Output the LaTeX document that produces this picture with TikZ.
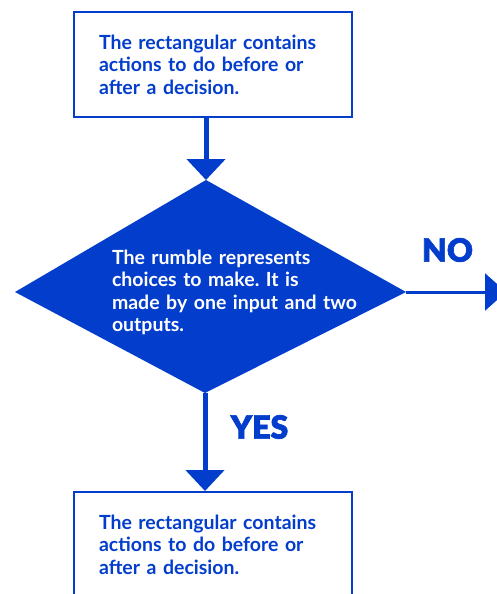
\documentclass[tikz,border=0pt]{standalone}
\usepackage{fontspec}
\setmainfont{Lato}
\newfontfamily\heavyfont{Lato Black}[FakeBold=2]
\usetikzlibrary{shapes.geometric,arrows.meta}
\definecolor{flowblue}{RGB}{3,61,204}
\frenchspacing

\begin{document}
\begin{tikzpicture}[x=1pt, y=-1pt,
 every node/.style={font=\bfseries\fontsize{19.5}{22.5}\selectfont, text=flowblue},
 actbox/.style={draw=flowblue, line width=2pt, fill=white, minimum width=278pt, minimum height=105pt, text width=228pt, align=left, inner sep=0pt},
 flow/.style={draw=flowblue, line width=5pt, -{Triangle[width=38pt,length=21pt]}},
 answer/.style={font=\heavyfont\fontsize{32}{32}\selectfont}]

 \useasboundingbox (0,0) rectangle (496,594);

 \node[actbox] (before) at (213,64.5) {The rectangular contains\\ actions to do before or\\ after a decision.};
 \coordinate (dtop) at (206,180);
 \coordinate (dright) at (406,292);
 \coordinate (dbottom) at (205,393);
 \coordinate (dleft) at (15,292);
 \fill[flowblue] (dtop) -- (dright) -- (dbottom) -- (dleft) -- cycle;
 \node[text=white, text width=256pt, align=left, inner sep=0pt] (question) at (240,292.5) {The rumble represents\\ choices to make. It is\\ made by one input and two\\ outputs.};
 \node[actbox] (after) at (213,544.5) {The rectangular contains\\ actions to do before or\\ after a decision.};
 \coordinate (noend) at (506,292);

 \draw[flow] (before.south -| dtop) -- (dtop);
 \draw[flow] (dbottom) -- (after.north -| dbottom);
 \draw[flow, line width=3pt, -{Triangle[width=37pt,length=21pt]}] (dright) -- (noend);

 \node[answer] (no) at (447.5,250) {NO};
 \node[answer] (yes) at (259.5,427) {YES};
\end{tikzpicture}
\end{document}
